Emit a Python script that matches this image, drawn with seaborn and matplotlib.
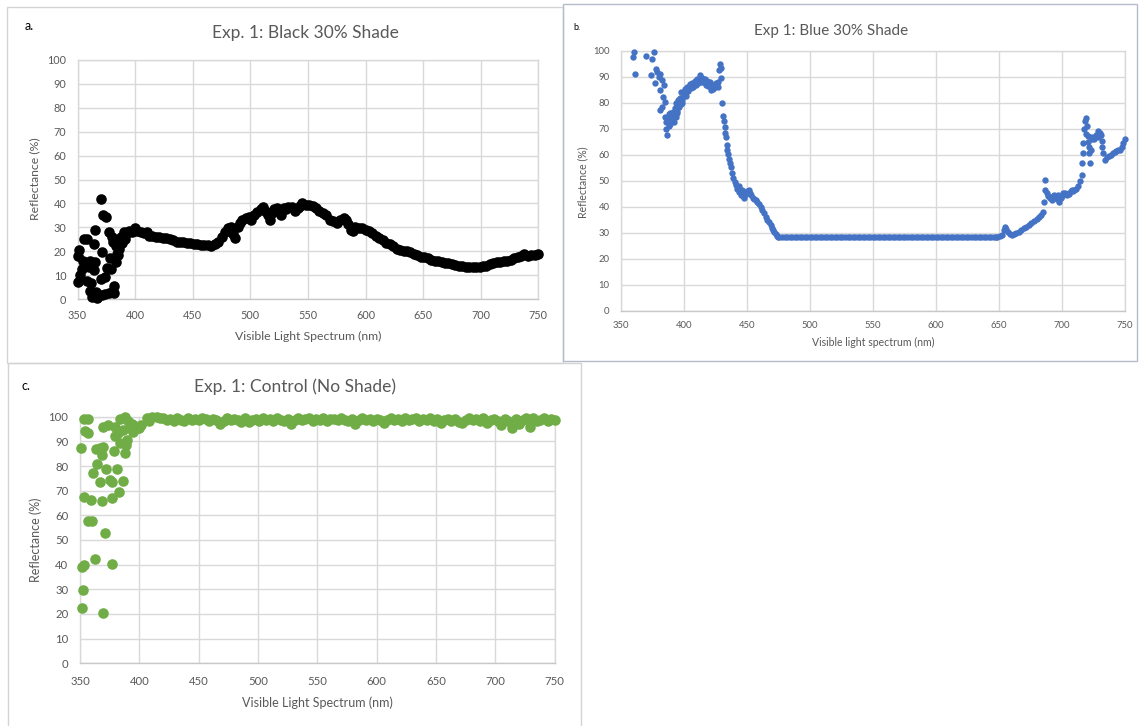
import matplotlib
matplotlib.use("Agg")
import matplotlib.pyplot as plt
from matplotlib.patches import Rectangle
import pandas as pd
import seaborn as sns

# panel a: black 30% shade  (wavelength nm, reflectance %)
a_noise = [(350, 18), (350, 7), (351, 20.5), (352, 10), (354, 12.5), (355, 16), (356, 25), (358, 25),
           (358, 7.5), (360, 13.5), (361, 16), (361, 3.5), (362, 6.5), (363, 0.8), (364, 23), (364, 12),
           (365, 29), (365, 15.5), (366, 3), (367, 0.5), (369, 1.5), (370, 42), (370, 8.5), (371, 19.5),
           (371, 1.5), (372, 35), (374, 9), (374, 2), (375, 34.5), (376, 13), (377, 28), (377, 2.5),
           (378, 17), (379, 12.5), (380, 26), (380, 3), (381, 24), (382, 5.5), (382, 2.5), (383, 15.5),
           (383, 22), (384, 19), (385, 18.5), (386, 21), (387, 24), (388, 26), (389, 23.5), (390, 28),
           (391, 25), (393, 27.5), (395, 28.5), (397, 28)]
a_curve = [(398, 28.5), (400, 29.5), (402, 28.5), (405, 28), (408, 27.5), (410, 28), (412, 26.5),
           (415, 26.5), (418, 26), (421, 26), (424, 25.5), (427, 25.5), (430, 25), (433, 24.5),
           (436, 24), (439, 24), (442, 23.8), (445, 23.5), (448, 23.3), (451, 23), (454, 23),
           (457, 22.8), (460, 22.8), (463, 22.5), (466, 22.3), (469, 23), (472, 24), (475, 26),
           (478, 28), (481, 29.5), (483, 30), (485, 27), (487, 25.5), (489, 30), (491, 32), (493, 33),
           (496, 34), (499, 34.5), (501, 33), (503, 35), (506, 36.5), (509, 37.5), (511, 38.5),
           (513, 37), (515, 35), (517, 33), (519, 36), (521, 37.5), (523, 38), (525, 37), (527, 35),
           (529, 38), (531, 37.5), (533, 38.5), (536, 38.5), (539, 37), (541, 38), (543, 39),
           (545, 40), (548, 39.5), (551, 39.5), (554, 39), (557, 38), (560, 37), (563, 36), (566, 35),
           (569, 33), (572, 32.5), (575, 32), (578, 33), (581, 34), (583, 33), (585, 31.5), (587, 29),
           (589, 28.5), (591, 30), (594, 29.5), (597, 29.5), (600, 29), (603, 28.5), (606, 27.5),
           (609, 26.5), (612, 25.5), (615, 24.5), (618, 23.5), (621, 23), (624, 22), (627, 21),
           (630, 20.5), (633, 20), (636, 20), (639, 19.5), (642, 19), (645, 18.5), (648, 17.5),
           (651, 17.5), (654, 17), (657, 16.5), (660, 16), (663, 16), (666, 15.5), (669, 15),
           (672, 15), (675, 14.5), (678, 14.3), (681, 14), (684, 13.8), (687, 13.5), (690, 13.5),
           (693, 13.3), (696, 13.5), (699, 13.5), (702, 14), (705, 14), (708, 14.5), (711, 15),
           (714, 15.5), (717, 15.5), (720, 16), (723, 16), (726, 16.5), (729, 17), (732, 17.5),
           (735, 18), (738, 19), (741, 18), (744, 18.5), (747, 18.5), (750, 19)]

# panel b: blue 30% shade
b_left = [(359.5, 97.4), (360.5, 99.6), (361, 91), (370, 98), (373.7, 90.8), (375, 97), (376.5, 99.5),
          (377, 87.7), (378.4, 93), (379, 92), (380, 90), (381, 91), (381, 85), (381, 77.4),
          (382.4, 88.7), (383, 78.2), (383.7, 82.3), (384, 87), (385, 80.2), (385, 74.5), (385.8, 70.1),
          (386, 72.7), (386.8, 67.6), (387.6, 74), (388, 71), (389, 72), (389.5, 76), (390, 75),
          (390.5, 73), (391.6, 76.5), (392, 72.5), (393, 78), (393.5, 74.5), (394, 80), (394.5, 77),
          (395.5, 81), (396, 78.5), (396.8, 82), (397.5, 79.5), (398, 84), (399, 81), (400, 83),
          (400.8, 85.3), (401.5, 82.5), (402.5, 86), (403.5, 84.5), (404.7, 87.2), (405.5, 85.5),
          (406.5, 87.5), (407.5, 86), (408.7, 88.5), (409.5, 87), (410.5, 89), (411.5, 87.5),
          (412.6, 90.5), (413.5, 88), (414.5, 89.5), (415.5, 88), (416.6, 89.2), (417.5, 87),
          (418.5, 88.5), (419.5, 86.5), (420.5, 88), (421.5, 85), (422.5, 87), (423, 85.4),
          (424.5, 86), (425.5, 87.5), (427, 88), (427.5, 86), (428.4, 92.4), (429, 95), (429.3, 93.5),
          (429.7, 89.7), (430.5, 79.9), (431, 75), (431.8, 73), (432.4, 70.5), (433, 68.5),
          (433.7, 66.7), (434, 63.6), (434.5, 62), (435, 60.5), (436, 58.5), (436.8, 57), (437.6, 55.4),
          (438.5, 53), (439.5, 51), (440.5, 49.5), (441.6, 48.5), (442.5, 47), (444, 45.9),
          (445.5, 44.5), (447, 44), (448, 43.3), (449.5, 45), (450.5, 46), (451.6, 46.5), (452.5, 45.5),
          (453.4, 44.6), (455, 43.5), (456, 43.2), (457.4, 42.7), (458.5, 41.8), (459.5, 41),
          (461.3, 40.1), (462.5, 38.7), (464, 37.5), (465, 36.3), (466.5, 35), (468, 34), (469, 33),
          (470, 32), (471, 31), (472, 30.2), (473, 29.7), (474, 29), (475, 28.5),
          (388, 75.5), (391, 74), (395, 76), (398.5, 80), (402, 84), (444, 48), (446, 46.5)]
b_flat_wl = list(range(476, 649, 2))
b_flat_refl = [28.3] * len(b_flat_wl)
b_right = [(649, 28.6), (651, 28.8), (653, 29.2), (654.5, 31.1), (655.3, 32.4), (656, 31.5),
           (657.5, 30.5), (659, 29.5), (660.5, 29.2), (662, 29.5), (664, 30), (666, 30.5), (668, 31),
           (670, 31.7), (672, 32.4), (674, 33), (676, 33.7), (678, 34.4), (680, 35.3), (682, 36.3),
           (683.5, 37), (685, 38.2), (685.7, 41.8), (686.6, 50.5), (687, 46.6), (688, 45.5),
           (689.5, 44), (691, 43.5), (692.4, 42.7), (694, 44.5), (695.3, 44), (696.5, 43), (698, 42),
           (699.7, 43.4), (701, 45.3), (702.5, 45.5), (704, 44.7), (705.5, 45), (707, 46),
           (708.5, 46.3), (710, 46.6), (711.5, 47), (713, 47.9), (714.3, 49.8), (715.8, 52.4),
           (716.3, 56.9), (716.7, 60.7), (717.2, 64.6), (718, 69.8), (718.6, 73), (719.2, 74),
           (720, 71), (721, 67.2), (721.5, 63), (722, 60.7), (722.4, 56.9), (723.5, 62), (724.4, 65.9),
           (725.5, 67), (727.3, 67.8), (728.5, 69), (730, 68.5), (731, 67.5), (731.7, 65.2),
           (732.3, 63), (733, 60.7), (734.6, 58.2), (736, 59), (737.5, 59.5), (739, 60), (740.4, 60.7),
           (742, 61), (743.3, 61.4), (744.5, 61.8), (746, 62), (747.5, 63), (749, 64.6), (750, 65.9),
           (719.5, 68), (720.5, 65), (723, 67), (726, 66), (729, 67), (693, 44), (697, 44.5),
           (700, 44), (703, 45), (706, 45.5), (709, 46)]

# panel c: control, no shade
c_noise = [(350.6, 87.4), (351.4, 39.2), (351.7, 22.3), (352.2, 29.7), (353.4, 39.9), (353.4, 99),
           (353.7, 67.6), (354.2, 94.3), (357, 99), (357, 93.2), (357, 57.7), (359, 66.2),
           (360.4, 57.7), (361.2, 77.3), (362.6, 42.2), (363.5, 86.8), (364, 80.7), (366.9, 87.4),
           (366.9, 73.6), (368.3, 84.5), (368.5, 65.9), (369.1, 20.3), (369.7, 87.6), (369.7, 96),
           (371, 52.7), (371.9, 78.8), (373.9, 96.6), (375.3, 74.3), (376.7, 73.6), (376.7, 67.2),
           (376.7, 40.1), (378.8, 86.2), (379.5, 95.7), (379.5, 92.2), (381.5, 78.6), (382.3, 93.2),
           (383, 69.6), (383.7, 98.9), (383.7, 89.2), (386, 74), (386.5, 94.6), (387.9, 99.7),
           (387.9, 85.1), (388.5, 88.5), (389.3, 90.5), (390.7, 98.4), (392.1, 95.3), (393.5, 97),
           (394.4, 93.9), (396.3, 96.2), (396.3, 94.9), (398.3, 96), (399.5, 95.5), (401, 96.5),
           (406.7, 99.3), (408, 98.2), (410.4, 99.7), (414.6, 99.7), (417, 99.5)]
c_band_wl = list(range(420, 751, 3))
c_band_refl = [99.4, 98.6, 99.2, 98.4, 99.5, 98.8, 98.2, 99.3, 98.7, 99.0,
               98.5, 99.4, 98.9, 98.3, 99.2, 98.6, 96.9, 98.4, 99.3, 98.8,
               99.1, 98.5, 98.0, 99.4, 97.8, 98.7, 99.2, 98.3, 99.5, 98.6,
               99.0, 98.4, 99.3, 98.8, 98.1, 99.2, 97.2, 98.7, 99.4, 98.5,
               98.9, 99.3, 98.2, 99.0, 98.6, 99.4, 98.4, 98.9, 99.2, 98.5,
               99.3, 98.7, 98.3, 99.1, 97.0, 98.6, 99.4, 98.5, 99.0, 98.3,
               99.2, 98.8, 97.6, 98.5, 99.3, 98.7, 99.0, 98.2, 99.4, 98.6,
               98.9, 99.3, 98.1, 99.1, 98.6, 99.4, 98.3, 99.0, 97.3, 98.7,
               99.2, 98.4, 99.0, 98.0, 97.4, 98.8, 99.3, 98.5, 99.1, 98.2,
               99.4, 97.5, 98.6, 99.2, 98.3, 96.8, 98.9, 98.4, 95.4, 99.0,
               97.2, 98.6, 99.3, 95.8, 99.4, 98.1, 98.7, 99.5, 98.4, 99.2,
               98.6]

x_ticks = list(range(350, 751, 50))
y_ticks = list(range(0, 101, 10))

W, H = 1139, 726


def frame(x0, y0, x1, y1):
    return [x0 / W, 1 - y1 / H, (x1 - x0) / W, (y1 - y0) / H]


def to_df(pairs):
    return pd.DataFrame(pairs, columns=["wl", "refl"])


df_a = to_df(a_noise + a_curve)
df_b = pd.concat([to_df(b_left),
                  pd.DataFrame({"wl": b_flat_wl, "refl": b_flat_refl}),
                  to_df(b_right)])
df_c = pd.concat([to_df(c_noise), pd.DataFrame({"wl": c_band_wl, "refl": c_band_refl})])

sns.set_theme(style="whitegrid")
plt.rcParams["font.family"] = ["Lato", "DejaVu Sans"]
grid_col = "#d9d9d9"
text_col = "#595959"

fig = plt.figure(figsize=(W / 100, H / 100), dpi=100)
fig.patch.set_facecolor("white")

# panel borders
for (x0, y0, x1, y1), col in [((6.7, 6.7, 562.7, 362.5), "#d4d4d4"),
                              ((562.7, 4, 1137, 360.7), "#b4bccb"),
                              ((7.5, 362.5, 581, 730), "#d4d4d4")]:
    fig.add_artist(Rectangle((x0 / W, 1 - y1 / H), (x1 - x0) / W, (y1 - y0) / H,
                             transform=fig.transFigure, fill=False, edgecolor=col, linewidth=1))

panels = [
    dict(df=df_a, box=(77.5, 60, 538.3, 299), color="#000000", s=58,
         title="Exp. 1: Black 30% Shade", title_xy=(305, 33), title_fs=12.5,
         tag="a.", tag_xy=(29, 26), tag_fs=9,
         xlabel="Visible Light Spectrum (nm)", xlabel_xy=(308, 336),
         ylabel_xy=(34.5, 179), label_fs=8.8, tick_fs=7.8, pad=(8, 8)),
    dict(df=df_b, box=(620.7, 50.7, 1124.7, 311), color="#4472C4", s=21,
         title="Exp 1: Blue 30% Shade", title_xy=(831, 31), title_fs=11,
         tag="b.", tag_xy=(577, 27), tag_fs=6.5,
         xlabel="Visible light spectrum (nm)", xlabel_xy=(873, 342),
         ylabel_xy=(582.6, 182), label_fs=7.6, tick_fs=6.8, pad=(8, 7.5)),
    dict(df=df_c, box=(80, 416.7, 554.7, 663.3), color="#70AD47", s=58,
         title="Exp. 1: Control (No Shade)", title_xy=(294.5, 386.5), title_fs=12.5,
         tag="c.", tag_xy=(26, 386), tag_fs=9,
         xlabel="Visible Light Spectrum (nm)", xlabel_xy=(317, 702.5),
         ylabel_xy=(35.4, 540), label_fs=9, tick_fs=8.2, pad=(8.4, 9)),
]

for p in panels:
    ax = fig.add_axes(frame(*p["box"]))
    sns.scatterplot(data=p["df"], x="wl", y="refl", ax=ax, color=p["color"], s=p["s"],
                    linewidth=0, alpha=1, clip_on=False, zorder=3)
    ax.set_xlim(350, 750)
    ax.set_ylim(0, 100)
    ax.set_xticks(x_ticks)
    ax.set_yticks(y_ticks)
    ax.set_xlabel("")
    ax.set_ylabel("")
    ax.grid(True, color=grid_col, linewidth=1)
    for sp in ax.spines.values():
        sp.set_color(grid_col)
        sp.set_linewidth(1)
    ax.spines["bottom"].set_color("#c8c8c8")
    ax.tick_params(axis="both", length=0, labelsize=p["tick_fs"], labelcolor=text_col)
    ax.tick_params(axis="y", pad=p["pad"][0])
    ax.tick_params(axis="x", pad=p["pad"][1])
    ax.set_axisbelow(True)

    tx, ty = p["title_xy"]
    fig.text(tx / W, 1 - ty / H, p["title"], ha="center", va="center",
             fontsize=p["title_fs"], color=text_col)
    gx, gy = p["tag_xy"]
    fig.text(gx / W, 1 - gy / H, p["tag"], ha="center", va="center",
             fontsize=p["tag_fs"], color="#000000")
    lx, ly = p["xlabel_xy"]
    fig.text(lx / W, 1 - ly / H, p["xlabel"], ha="center", va="center",
             fontsize=p["label_fs"], color=text_col)
    yx, yy = p["ylabel_xy"]
    fig.text(yx / W, 1 - yy / H, "Reflectance (%)", ha="center", va="center",
             rotation=90, fontsize=p["label_fs"], color=text_col)

fig.savefig("out.png", dpi=100, facecolor="white")
